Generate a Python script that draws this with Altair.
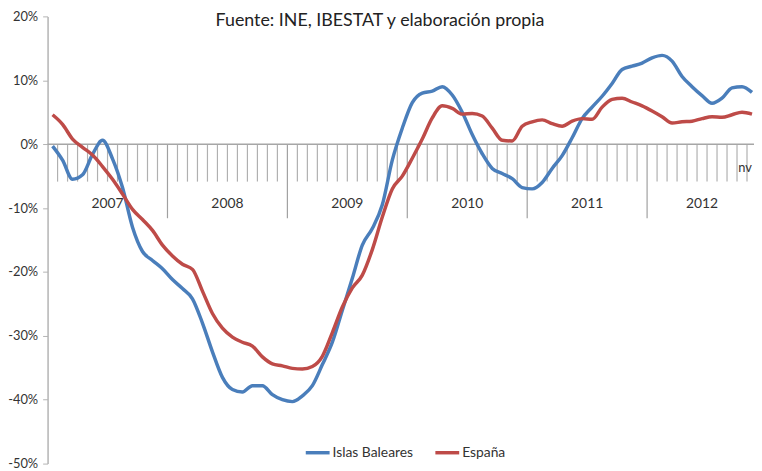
import altair as alt
import pandas as pd

# Monthly series Jan 2007 .. Nov 2012 (71 months), year-on-year % change
baleares = [-0.3, -2.5, -5.5, -4.8, -1.6, 0.6, -2.3, -6.8, -13.0, -16.8,
            -18.2, -19.5, -21.2, -22.6, -24.2, -28.0, -32.5, -36.5, -38.4, -38.8,
            -37.8, -37.8, -39.2, -40.0, -40.3, -39.4, -37.8, -34.5, -31.0, -26.0,
            -21.0, -15.8, -13.2, -9.5, -2.5, 2.5, 6.5, 8.0, 8.3, 9.0,
            7.7, 5.0, 1.5, -1.5, -3.8, -4.6, -5.4, -6.8, -7.0, -6.0,
            -3.8, -1.8, 1.0, 4.0, 5.8, 7.5, 9.5, 11.7, 12.2, 12.7,
            13.5, 13.9, 13.0, 10.6, 9.0, 7.6, 6.4, 7.2, 8.8, 9.0,
            8.1]
espana = [4.6, 3.1, 0.8, -0.5, -1.7, -3.5, -5.5, -7.8, -10.2, -11.8,
          -13.5, -15.8, -17.5, -18.8, -19.6, -23.0, -26.5, -28.8, -30.2, -31.0,
          -31.6, -33.3, -34.4, -34.7, -35.1, -35.2, -34.8, -33.2, -29.5, -25.5,
          -22.5, -20.5, -16.5, -11.4, -7.0, -5.0, -2.2, 0.8, 4.1, 6.0,
          5.6, 4.7, 4.8, 4.4, 2.5, 0.6, 0.5, 2.8, 3.5, 3.8,
          3.2, 2.8, 3.6, 4.0, 3.9, 5.8, 7.0, 7.2, 6.6, 6.0,
          5.2, 4.3, 3.3, 3.5, 3.6, 4.0, 4.3, 4.2, 4.6, 5.0,
          4.7]
series_names = ["Islas Baleares", "España"]
series_colors = ["#4A7EBB", "#BE4B48"]
years = ["2007", "2008", "2009", "2010", "2011", "2012"]
year_months = [12, 12, 12, 12, 12, 11]
y_ticks = [20, 10, 0, -10, -20, -30, -40, -50]
title_text = "Fuente: INE, IBESTAT y elaboración propia"

FONT = "Lato"
n = len(baleares)

rows = []
for i in range(n):
    rows.append({"m": i + 0.5, "v": baleares[i], "s": series_names[0]})
for i in range(n):
    rows.append({"m": i + 0.5, "v": espana[i], "s": series_names[1]})
df = pd.DataFrame(rows)

xscale = alt.Scale(domain=[0, 70.7], nice=False, zero=False)
yscale = alt.Scale(domain=[-50, 20], nice=False, zero=False)

# month boundary ticks
mt = [k for k in range(1, n) if k % 12 != 0]
month_ticks = pd.DataFrame({"m": mt, "v": [0] * len(mt)})
starts = [0]
for c in year_months[:-1]:
    starts.append(starts[-1] + c)
year_seps = pd.DataFrame({"m": starts[1:], "v": [0] * (len(starts) - 1)})
year_lbl = pd.DataFrame({"m": [s + c / 2 for s, c in zip(starts, year_months)], "t": years})

base_y = alt.Y("v:Q", scale=yscale,
               axis=alt.Axis(values=y_ticks, labelExpr="datum.value + '%'", title=None,
                             grid=False, domainColor="#b3b3b3", tickColor="#b3b3b3",
                             tickSize=5, labelFont=FONT, labelFontSize=13, labelColor="#333333",
                             labelPadding=5, domainWidth=1.5))

ticks = alt.Chart(month_ticks).mark_rule(color="#b0b0b0", strokeWidth=1.2).encode(
    x=alt.X("m:Q", scale=xscale, axis=None),
    y=alt.Y("v:Q", scale=yscale),
    y2=alt.value(167),
)
seps = alt.Chart(year_seps).mark_rule(color="#a0a0a0", strokeWidth=1.2).encode(
    x=alt.X("m:Q", scale=xscale, axis=None),
    y=alt.Y("v:Q", scale=yscale),
    y2=alt.value(204),
)
zero = alt.Chart(pd.DataFrame({"v": [0]})).mark_rule(color="#a6a6a6", strokeWidth=1.5).encode(
    y=alt.Y("v:Q", scale=yscale),
    x=alt.value(0),
    x2=alt.value(714),
)
ylbl = alt.Chart(year_lbl).mark_text(font=FONT, fontSize=14, color="#333333", baseline="middle").encode(
    x=alt.X("m:Q", scale=xscale, axis=None),
    y=alt.value(190),
    text="t:N",
)
lines = alt.Chart(df).mark_line(strokeWidth=3.5, interpolate="monotone").encode(
    x=alt.X("m:Q", scale=xscale, axis=None),
    y=base_y,
    color=alt.Color("s:N", scale=alt.Scale(domain=series_names, range=series_colors),
                    legend=alt.Legend(title=None, orient="none", direction="horizontal",
                                      legendX=259, legendY=427, symbolType="stroke",
                                      symbolStrokeWidth=3.5, symbolSize=580,
                                      labelFont=FONT, labelFontSize=14, labelColor="#333333",
                                      labelOffset=1, columnPadding=14)),
    detail="s:N",
)
title = alt.Chart(pd.DataFrame({"t": [title_text]})).mark_text(
    font=FONT, fontSize=18, color="#222222", baseline="middle", align="center").encode(
    x=alt.value(336), y=alt.value(5), text="t:N")
nv = alt.Chart(pd.DataFrame({"t": ["nv"]})).mark_text(
    font=FONT, fontSize=13, color="#333333", baseline="middle", align="right").encode(
    x=alt.value(712), y=alt.value(153), text="t:N")

chart = alt.layer(ticks, seps, zero, ylbl, lines, title, nv).properties(
    width=714, height=452,
    autosize=alt.AutoSizeParams(type="none"),
    padding={"left": 40, "top": 6, "right": 0, "bottom": 5},
    background="white",
).configure_view(stroke=None)

chart.save("out.html", embed_options={"renderer": "svg", "actions": False})
